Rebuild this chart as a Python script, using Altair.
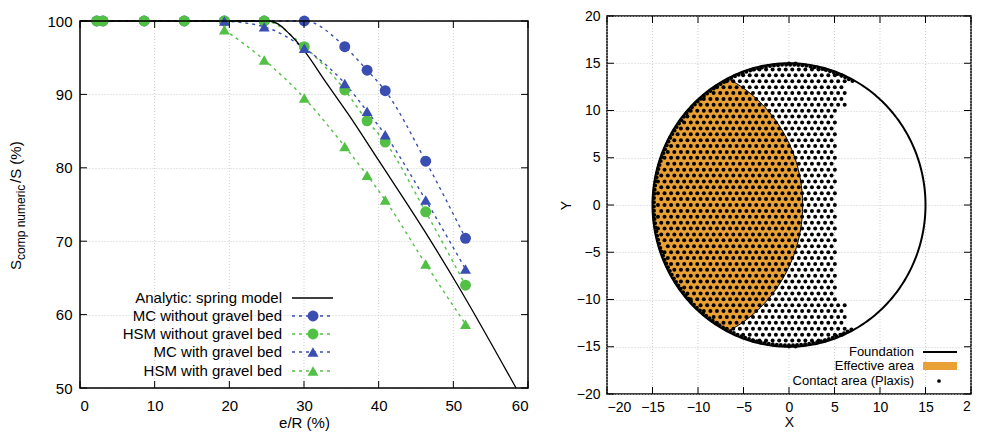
import altair as alt
import pandas as pd
import numpy as np

FONT = "Liberation Sans"

# ---------------- Left panel data ----------------
e_over_r = [2.25, 3.08, 8.59, 13.96, 19.34, 24.67, 30.04, 35.46, 38.45, 40.88, 46.3, 51.63]
mc_without = [100, 100, 100, 100, 100, 100, 100, 96.5, 93.3, 90.5, 80.9, 70.4]
hsm_without = [100, 100, 100, 100, 100, 100, 96.5, 90.6, 86.4, 83.5, 74.0, 64.0]
e_over_r_tri = [19.34, 24.67, 30.04, 35.46, 38.45, 40.88, 46.3, 51.63]
mc_with = [100, 99.2, 96.3, 91.5, 87.7, 84.5, 75.6, 66.2]
hsm_with = [98.8, 94.7, 89.5, 82.9, 79.0, 75.6, 66.9, 58.7]
analytic_x = [0, 25.3, 26.5, 28.0, 30.0, 32.9, 36.0, 40.0, 46.2, 50.7, 58.4]
analytic_y = [100, 100, 99.6, 98.3, 96.0, 91.7, 87.2, 81.0, 71.3, 63.8, 50.0]

series_names = ["MC without gravel bed", "HSM without gravel bed",
                "MC with gravel bed", "HSM with gravel bed"]
series_colors = ["#3a4db0", "#52c044", "#3a4db0", "#52c044"]
series_shapes = ["circle", "circle", "triangle-up", "triangle-up"]
left_xticks = [0, 10, 20, 30, 40, 50, 60]
left_yticks = [50, 60, 70, 80, 90, 100]

# ---------------- Right panel data ----------------
foundation_radius = 15.0
effective_center_x = -13.5        # centre of the mirrored circle bounding the effective area
contact_spacing = 0.72            # spacing of Plaxis contact nodes
contact_edge_band_y = 10.0        # |y| beyond which the contact edge is further right
contact_edge_outer = 6.2
contact_edge_inner = 5.3
right_ticks = [-20, -15, -10, -5, 0, 5, 10, 15, 20]
right_xlabels = [-20, -15, -10, -5, 0, 5, 10, 15]   # the "20" label is cut at the figure edge

LW = 448
LH = 378            # full height of the left view
LTOP, LBOT = 5, 372  # left frame sits a little lower than the right one
RW, RH = 364, 378

GRID = dict(color="#cfcfcf", strokeWidth=1, strokeDash=[1, 2])
tk = dict(color="black", strokeWidth=1)
one = pd.DataFrame({"a": [0]})

# ---------------- Left panel ----------------
rows = []
for name, xs, ys in [(series_names[0], e_over_r, mc_without),
                     (series_names[1], e_over_r, hsm_without),
                     (series_names[2], e_over_r_tri, mc_with),
                     (series_names[3], e_over_r_tri, hsm_with)]:
    for xv, yv in zip(xs, ys):
        rows.append({"series": name, "x": xv, "y": yv})
df_series = pd.DataFrame(rows)
df_analytic = pd.DataFrame({"x": analytic_x, "y": analytic_y})

lx = alt.X("x:Q", scale=alt.Scale(domain=[0, 60], nice=False),
           axis=alt.Axis(values=left_xticks, title="e/R (%)", labelPadding=4, titlePadding=2, grid=False))
ly = alt.Y("y:Q", scale=alt.Scale(domain=[50, 100], nice=False, range=[LBOT, LTOP]),
           axis=alt.Axis(values=left_yticks, title="", labelPadding=8))
color_scale = alt.Scale(domain=series_names, range=series_colors)
shape_scale = alt.Scale(domain=series_names, range=series_shapes)

df_lxt = pd.DataFrame({"x": left_xticks})
df_lyt = pd.DataFrame({"y": left_yticks})
lgrid = alt.Chart(df_lxt).mark_rule(**GRID).encode(x=lx, y=alt.value(LTOP), y2=alt.value(LBOT))

lines = alt.Chart(df_series).mark_line(strokeDash=[3, 4], strokeWidth=1.4, interpolate="monotone").encode(
    x=lx, y=ly, color=alt.Color("series:N", scale=color_scale, legend=None), detail="series:N")
analytic = alt.Chart(df_analytic).mark_line(color="black", strokeWidth=1.3, interpolate="monotone").encode(x=lx, y=ly)
points = alt.Chart(df_series).mark_point(filled=True, size=120, opacity=1).encode(
    x=lx, y=ly,
    color=alt.Color("series:N", scale=color_scale, legend=None),
    shape=alt.Shape("series:N", scale=shape_scale, legend=None))

lticks = [
    alt.Chart(df_lxt).mark_rule(**tk).encode(x=lx, y=alt.value(LBOT), y2=alt.value(LBOT - 7)),
    alt.Chart(df_lxt).mark_rule(**tk).encode(x=lx, y=alt.value(LTOP), y2=alt.value(LTOP + 7)),
    alt.Chart(df_lyt).mark_rule(**tk).encode(y=ly, x=alt.value(0), x2=alt.value(7)),
    alt.Chart(df_lyt).mark_rule(**tk).encode(y=ly, x=alt.value(LW), x2=alt.value(LW - 7)),
]
lframe = alt.Chart(one).mark_rect(fill="transparent", stroke="black", strokeWidth=1.5).encode(
    x=alt.value(0), x2=alt.value(LW), y=alt.value(LTOP), y2=alt.value(LBOT))

ytitle = [
    alt.Chart(one).mark_text(text="S", angle=270, align="left", baseline="middle", fontSize=15, font=FONT,
                             color="black").encode(x=alt.value(-64), y=alt.value(254)),
    alt.Chart(one).mark_text(text="comp numeric", angle=270, align="left", baseline="middle", fontSize=12,
                             font=FONT, color="black").encode(x=alt.value(-59), y=alt.value(244)),
    alt.Chart(one).mark_text(text="/S (%)", angle=270, align="left", baseline="middle", fontSize=15, font=FONT,
                             color="black").encode(x=alt.value(-64), y=alt.value(167)),
]

leg_labels = ["Analytic: spring model"] + series_names
leg_y = [282, 300, 318, 336, 355]
legend_layers = []
for i, lab in enumerate(leg_labels):
    d = pd.DataFrame({"label": [lab]})
    legend_layers.append(alt.Chart(d).mark_text(align="right", baseline="middle", fontSize=15, font=FONT,
                                                color="black").encode(
        text="label:N", x=alt.value(202), y=alt.value(leg_y[i])))
    if i == 0:
        legend_layers.append(alt.Chart(d).mark_rule(color="black", strokeWidth=1.3).encode(
            x=alt.value(212), x2=alt.value(253), y=alt.value(leg_y[i])))
    else:
        c = series_colors[i - 1]
        legend_layers.append(alt.Chart(d).mark_rule(color=c, strokeWidth=1.4, strokeDash=[3, 4]).encode(
            x=alt.value(212), x2=alt.value(253), y=alt.value(leg_y[i])))
        legend_layers.append(alt.Chart(d).mark_point(filled=True, size=120, opacity=1, color=c,
                                                     shape=series_shapes[i - 1]).encode(
            x=alt.value(233), y=alt.value(leg_y[i])))

left = alt.layer(lgrid, lines, analytic, points, *lticks, lframe, *ytitle, *legend_layers).properties(
    width=LW, height=LH, view=alt.ViewBackground(stroke="transparent"))

# ---------------- Right panel ----------------
R = foundation_radius
xi = np.linspace(-R, effective_center_x + R, 200)
top = np.minimum(np.sqrt(np.clip(R**2 - xi**2, 0, None)),
                 np.sqrt(np.clip(R**2 - (xi - effective_center_x)**2, 0, None)))
df_eff = pd.DataFrame({"x": xi, "y": top, "y2": -top})

th = np.linspace(0, 2 * np.pi, 361)
df_circle = pd.DataFrame({"x": R * np.cos(th), "y": R * np.sin(th), "o": np.arange(361)})

xc = effective_center_x / 2.0
yc = np.sqrt(R**2 - xc**2)
a0 = np.arctan2(yc, xc - effective_center_x)
ta = np.linspace(-a0, a0, 120)
df_arc = pd.DataFrame({"x": effective_center_x + R * np.cos(ta), "y": R * np.sin(ta), "o": np.arange(120)})

pts = []
s = contact_spacing
ny = int(R / (s * 0.866))
for k in range(-ny, ny + 1):
    yv = k * s * 0.866
    xl = -np.sqrt(max(R**2 - yv**2, 0))
    edge = contact_edge_outer if abs(yv) >= contact_edge_band_y else contact_edge_inner
    xr = min(edge, np.sqrt(max(R**2 - yv**2, 0)) - 0.3)
    off = (s / 2) if (k % 2) else 0.0
    xv = np.ceil((xl + 0.35 - off) / s) * s + off
    while xv <= xr:
        pts.append({"x": xv, "y": yv})
        xv += s
for ang in np.arange(np.deg2rad(62), np.deg2rad(298), 0.03):
    pts.append({"x": (R - 0.15) * np.cos(ang), "y": (R - 0.15) * np.sin(ang)})
df_pts = pd.DataFrame(pts)

rscale = alt.Scale(domain=[-20, 20], nice=False)
rx = alt.X("x:Q", scale=rscale,
           axis=alt.Axis(values=right_xlabels, title="X", labelPadding=6, titlePadding=1,
                         labelFontSize=14, titleFontSize=14))
ry = alt.Y("y:Q", scale=rscale,
           axis=alt.Axis(values=right_ticks, title="Y", labelPadding=7, titlePadding=3,
                         labelFontSize=14, titleFontSize=14))

eff = alt.Chart(df_eff).mark_area(color="#e9a135", opacity=1, orient="vertical").encode(
    x=rx, y=ry, y2="y2:Q")
dots = alt.Chart(df_pts).mark_circle(color="black", size=16, opacity=1).encode(x=rx, y=ry)
circle = alt.Chart(df_circle).mark_line(color="black", strokeWidth=2).encode(x=rx, y=ry, order="o:Q")
arc = alt.Chart(df_arc).mark_line(color="black", strokeWidth=1).encode(x=rx, y=ry, order="o:Q")

df_rt = pd.DataFrame({"x": right_ticks, "y": right_ticks})
rticks = [
    alt.Chart(df_rt).mark_rule(**tk).encode(x=rx, y=alt.value(RH), y2=alt.value(RH - 7)),
    alt.Chart(df_rt).mark_rule(**tk).encode(x=rx, y=alt.value(0), y2=alt.value(7)),
    alt.Chart(df_rt).mark_rule(**tk).encode(y=ry, x=alt.value(0), x2=alt.value(7)),
    alt.Chart(df_rt).mark_rule(**tk).encode(y=ry, x=alt.value(RW), x2=alt.value(RW - 7)),
]
rgrid = alt.Chart(df_rt).mark_rule(**GRID).encode(x=rx, y=alt.value(0), y2=alt.value(RH))
cut_label = alt.Chart(one).mark_text(text="2", align="left", baseline="top", fontSize=14, font=FONT,
                                     color="black").encode(x=alt.value(RW - 8), y=alt.value(RH + 6))

r_leg_labels = ["Foundation", "Effective area", "Contact area (Plaxis)"]
r_leg_y = [RH - 42, RH - 28, RH - 13]
r_leg = []
for i, lab in enumerate(r_leg_labels):
    d = pd.DataFrame({"label": [lab]})
    r_leg.append(alt.Chart(d).mark_text(align="right", baseline="middle", fontSize=13, font=FONT,
                                        color="black").encode(text="label:N", x=alt.value(RW - 57),
                                                              y=alt.value(r_leg_y[i])))
r_leg.append(alt.Chart(one).mark_rule(color="black", strokeWidth=2).encode(
    x=alt.value(RW - 48), x2=alt.value(RW - 14), y=alt.value(r_leg_y[0])))
r_leg.append(alt.Chart(one).mark_rect(color="#e9a135").encode(
    x=alt.value(RW - 48), x2=alt.value(RW - 14), y=alt.value(r_leg_y[1] - 4), y2=alt.value(r_leg_y[1] + 4)))
r_leg.append(alt.Chart(one).mark_circle(color="black", size=14, opacity=1).encode(
    x=alt.value(RW - 32), y=alt.value(r_leg_y[2])))

right = alt.layer(rgrid, eff, dots, circle, arc, *rticks, cut_label, *r_leg).properties(width=RW, height=RH)

chart = alt.hconcat(left, right, spacing=28).configure_axis(
    domain=False, ticks=False, grid=True, gridColor="#cfcfcf", gridDash=[1, 2], gridWidth=1,
    labelFont=FONT, titleFont=FONT, labelColor="black", titleColor="black",
    labelFontSize=15, titleFontSize=15, titleFontWeight="normal"
).configure_axisX(grid=False).configure_view(stroke="black", strokeWidth=1.5).properties(
    padding=0, background="white")

chart.save("out.html", embed_options={"renderer": "svg", "actions": False})
